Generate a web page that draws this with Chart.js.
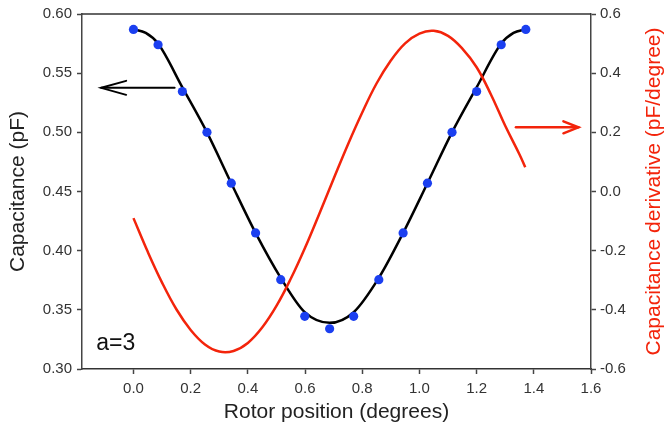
<!DOCTYPE html>
<html>
<head>
<meta charset="utf-8">
<script src="https://cdn.jsdelivr.net/npm/chart.js@4.4.1/dist/chart.umd.min.js"></script>
<style>
  html, body { margin: 0; padding: 0; background: #fff; }
  #wrap { width: 665px; height: 430px; }
</style>
</head>
<body>
<div id="wrap"><canvas id="chart" width="665" height="430"></canvas></div>
<script>
// measured capacitance (blue dots), pF
const measX = [0.000, 0.086, 0.171, 0.257, 0.342, 0.427, 0.515, 0.599, 0.686, 0.770, 0.858, 0.943, 1.028, 1.114, 1.200, 1.286, 1.372];
const measC = [0.587, 0.574, 0.5345, 0.500, 0.457, 0.415, 0.3755, 0.3445, 0.334, 0.3445, 0.3755, 0.415, 0.457, 0.500, 0.5345, 0.574, 0.587];

// fitted capacitance curve (black)
const fitX = [0.000, 0.043, 0.086, 0.171, 0.257, 0.342, 0.427, 0.515, 0.599, 0.686, 0.770, 0.858, 0.943, 1.028, 1.114, 1.200, 1.286, 1.329, 1.372];
const fitC = [0.587, 0.584, 0.575, 0.538, 0.500, 0.457, 0.415, 0.377, 0.348, 0.339, 0.348, 0.377, 0.415, 0.457, 0.500, 0.538, 0.575, 0.584, 0.587];

// capacitance derivative (red), pF/degree
const derivX = [0.00, 0.05, 0.10, 0.15, 0.20, 0.25, 0.30, 0.35, 0.40, 0.45, 0.50, 0.55, 0.60, 0.65,
                0.70, 0.75, 0.80, 0.85, 0.90, 0.95, 1.00, 1.05, 1.10, 1.15, 1.20, 1.25, 1.30, 1.35, 1.37];
const derivV = [-0.090, -0.204, -0.308, -0.398, -0.468, -0.517, -0.541, -0.539, -0.512, -0.460, -0.387, -0.295, -0.190, -0.075,
                0.043, 0.159, 0.267, 0.365, 0.443, 0.501, 0.534, 0.543, 0.526, 0.483, 0.420, 0.328, 0.222, 0.125, 0.082];

// tick labels
const xTicks = [0.0, 0.2, 0.4, 0.6, 0.8, 1.0, 1.2, 1.4, 1.6];
const capTicks = [0.30, 0.35, 0.40, 0.45, 0.50, 0.55, 0.60];
const derivTicks = [-0.6, -0.4, -0.2, 0.0, 0.2, 0.4, 0.6];

const BLUE = '#1b3ff0';
const RED = '#f3240b';
const INK = '#222';

Chart.defaults.font.family = '"Liberation Sans", Arial, Helvetica, sans-serif';
Chart.defaults.color = INK;

function pts(xs, ys) {
  return xs.map((x, i) => ({ x: x, y: ys[i] }));
}

function drawArrow(ctx, x0, x1, y, head, halfW, color, width) {
  const dir = Math.sign(x1 - x0);
  ctx.strokeStyle = color;
  ctx.lineWidth = width;
  ctx.lineCap = 'round';
  ctx.lineJoin = 'miter';
  ctx.beginPath();
  ctx.moveTo(x0, y);
  ctx.lineTo(x1, y);
  ctx.stroke();
  ctx.beginPath();
  ctx.moveTo(x1 - dir * head, y - halfW);
  ctx.lineTo(x1, y);
  ctx.lineTo(x1 - dir * head, y + halfW);
  ctx.stroke();
}

// frame top, arrows, "a=3" note and the right-hand title
const decorations = {
  id: 'decorations',
  afterDatasetsDraw(chart) {
    const { ctx, chartArea: a, scales } = chart;
    const x = scales.x, yl = scales.y, yr = scales.y1;
    ctx.save();

    ctx.strokeStyle = '#333';
    ctx.lineWidth = 1.5;
    ctx.beginPath();
    ctx.moveTo(a.left, a.top);
    ctx.lineTo(a.right, a.top);
    ctx.stroke();

    // arrows point to the axis each curve belongs to
    drawArrow(ctx, x.getPixelForValue(0.144), x.getPixelForValue(-0.113), yl.getPixelForValue(0.5376), 25, 7, '#000', 2);
    drawArrow(ctx, x.getPixelForValue(1.3375), x.getPixelForValue(1.556), yr.getPixelForValue(0.217), 15, 6, RED, 2.5);

    ctx.fillStyle = '#111';
    ctx.font = '23px "Liberation Sans", Arial, sans-serif';
    ctx.textAlign = 'left';
    ctx.textBaseline = 'alphabetic';
    ctx.fillText('a=3', x.getPixelForValue(-0.13), yl.getPixelForValue(0.316));

    ctx.translate(yr.right - 10.5, (a.top + a.bottom) / 2);
    ctx.rotate(-Math.PI / 2);
    ctx.fillStyle = RED;
    ctx.font = '21px "Liberation Sans", Arial, sans-serif';
    ctx.textAlign = 'center';
    ctx.textBaseline = 'middle';
    ctx.fillText('Capacitance derivative (pF/degree)', 0, 0);

    ctx.restore();
  }
};

new Chart(document.getElementById('chart'), {
  type: 'scatter',
  data: {
    datasets: [
      {
        label: 'measured',
        data: pts(measX, measC),
        yAxisID: 'y',
        showLine: false,
        pointRadius: 4.6,
        pointBackgroundColor: BLUE,
        pointBorderWidth: 0
      },
      {
        label: 'derivative',
        data: pts(derivX, derivV),
        yAxisID: 'y1',
        showLine: true,
        borderColor: RED,
        borderWidth: 2.5,
        pointRadius: 0,
        tension: 0.4
      },
      {
        label: 'fit',
        data: pts(fitX, fitC),
        yAxisID: 'y',
        showLine: true,
        borderColor: '#000',
        borderWidth: 2.5,
        pointRadius: 0,
        cubicInterpolationMode: 'monotone'
      }
    ]
  },
  options: {
    responsive: false,
    animation: false,
    layout: { padding: { top: 13, left: 0, right: 0, bottom: 0 } },
    plugins: {
      legend: { display: false },
      tooltip: { enabled: false }
    },
    scales: {
      x: {
        type: 'linear',
        position: 'bottom',
        min: -0.18,
        max: 1.6,
        afterBuildTicks: s => { s.ticks = xTicks.map(v => ({ value: v })); },
        afterFit: s => { s.height = 61; },
        ticks: {
          callback: v => Number(v).toFixed(1),
          font: { size: 15 },
          color: '#333',
          padding: 6,
          autoSkip: false,
          maxRotation: 0
        },
        grid: { drawOnChartArea: false, tickLength: 5, color: '#444', tickWidth: 1.5 },
        border: { color: '#333', width: 1.5 },
        title: {
          display: true,
          text: 'Rotor position (degrees)',
          font: { size: 21, lineHeight: 1 },
          color: INK,
          padding: { top: 0, bottom: 7 }
        }
      },
      y: {
        type: 'linear',
        position: 'left',
        min: 0.30,
        max: 0.60,
        afterBuildTicks: s => { s.ticks = capTicks.map(v => ({ value: v })); },
        afterFit: s => { s.width = 82; },
        ticks: {
          callback: v => Number(v).toFixed(2),
          font: { size: 15 },
          color: '#333',
          padding: 5
        },
        grid: { drawOnChartArea: false, tickLength: 5, color: '#444', tickWidth: 1.5 },
        border: { color: '#444', width: 1.5 },
        title: {
          display: true,
          text: 'Capacitance (pF)',
          font: { size: 21, lineHeight: 1 },
          color: INK,
          padding: { top: 8, bottom: 0 }
        }
      },
      y1: {
        type: 'linear',
        position: 'right',
        min: -0.6,
        max: 0.6,
        afterBuildTicks: s => { s.ticks = derivTicks.map(v => ({ value: v })); },
        afterFit: s => { s.width = 74; },
        ticks: {
          callback: v => Number(v).toFixed(1),
          font: { size: 15 },
          color: '#333',
          padding: 4
        },
        grid: { drawOnChartArea: false, tickLength: 5, color: '#444', tickWidth: 1.5 },
        border: { color: '#444', width: 1.5 }
      }
    }
  },
  plugins: [decorations]
});
</script>
</body>
</html>
